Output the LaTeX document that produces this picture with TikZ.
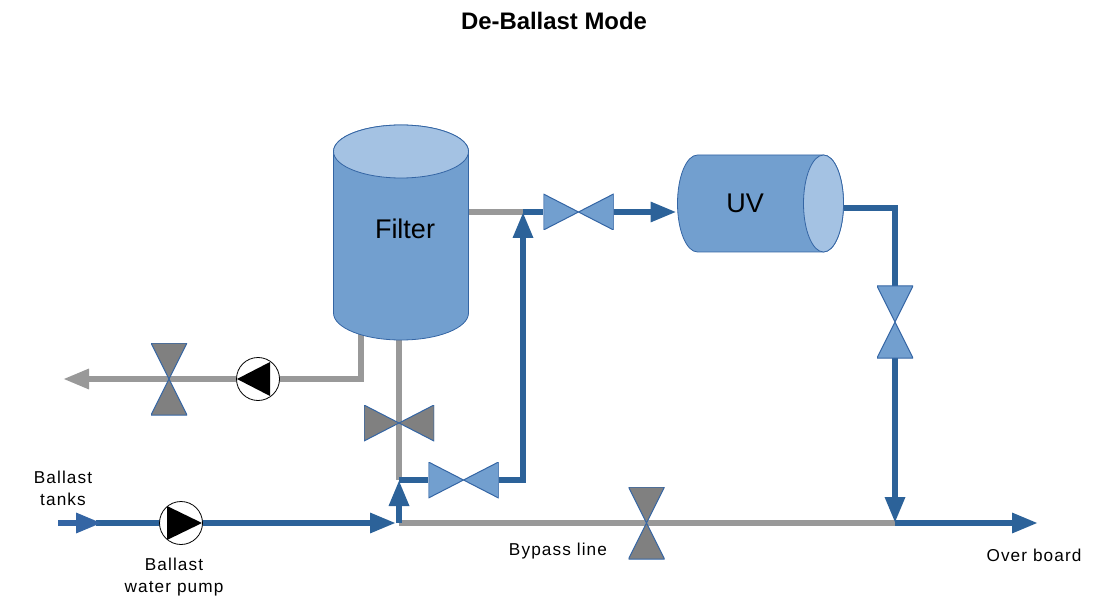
\documentclass[tikz,border=0pt]{standalone}
\usepackage{fontspec}
\setmainfont{Liberation Sans}
\newfontfamily\labelfont[LetterSpace=6.5]{Liberation Sans}
\usetikzlibrary{arrows.meta,backgrounds}
\definecolor{pipeblue}{HTML}{2C6299}
\definecolor{pipegray}{HTML}{999999}
\definecolor{valvegray}{HTML}{808080}
\definecolor{bodyblue}{HTML}{729FCF}
\definecolor{capblue}{HTML}{A4C2E3}
\definecolor{edgeblue}{HTML}{3465A4}
\tikzset{
  bluepipe/.style={draw=pipeblue,line width=6pt},
  graypipe/.style={draw=pipegray,line width=6pt},
  inpipe/.style={draw=edgeblue,line width=6pt},
  tip/.style={-{Triangle[length=26pt,width=19pt]}},
  valveh/.style={minimum width=70pt,minimum height=36pt,inner sep=0pt,
    path picture={\filldraw[fill=#1,draw=edgeblue,line width=1pt]
      (path picture bounding box.north west) -- (path picture bounding box.south east)
      -- (path picture bounding box.north east) -- (path picture bounding box.south west) -- cycle;}},
  valvev/.style={minimum width=36pt,minimum height=72pt,inner sep=0pt,
    path picture={\filldraw[fill=#1,draw=edgeblue,line width=1pt]
      (path picture bounding box.north west) -- (path picture bounding box.north east)
      -- (path picture bounding box.south west) -- (path picture bounding box.south east) -- cycle;}},
  pumpr/.style={circle,draw=black,fill=white,line width=0.8pt,minimum size=43pt,inner sep=0pt,
    path picture={\fill[black] ([shift={(-14,-17)}]path picture bounding box.center)
      -- ([shift={(21,0)}]path picture bounding box.center)
      -- ([shift={(-14,17)}]path picture bounding box.center) -- cycle;}},
  pumpl/.style={circle,draw=black,fill=white,line width=0.8pt,minimum size=43pt,inner sep=0pt,
    path picture={\fill[black] ([shift={(12,-17)}]path picture bounding box.center)
      -- ([shift={(-21,0)}]path picture bounding box.center)
      -- ([shift={(12,17)}]path picture bounding box.center) -- cycle;}},
  vesselbody/.style={fill=bodyblue,draw=edgeblue,line width=0.8pt},
  vesselcap/.style={fill=capblue,draw=edgeblue,line width=0.8pt},
  vessellabel/.style={inner sep=0pt,font=\fontsize{27}{30}\selectfont},
  lbl/.style={align=center,font=\labelfont\fontsize{17.2}{22}\selectfont}
}
\begin{document}
\begin{tikzpicture}[x=1pt,y=-1pt]
  \useasboundingbox (0,0) rectangle (1118,601);
  \node[font=\bfseries\fontsize{23.9}{28}\selectfont] (title) at (554,21) {De-Ballast Mode};

  \filldraw[vesselbody] (333.5,151.5) -- (333.5,313)
    arc[start angle=180,end angle=360,x radius=67.5pt,y radius=27pt]
    -- (468.5,151.5) arc[start angle=0,end angle=180,x radius=67.5pt,y radius=26.5pt] -- cycle;
  \filldraw[vesselcap] (401,151.5) ellipse [x radius=67.5pt,y radius=26.5pt];
  \filldraw[vesselbody] (697.5,155) -- (823.5,155)
    arc[start angle=90,end angle=-90,x radius=20pt,y radius=48.5pt]
    -- (697.5,252) arc[start angle=270,end angle=90,x radius=20pt,y radius=48.5pt] -- cycle;
  \filldraw[vesselcap] (823.5,203.5) ellipse [x radius=20pt,y radius=48.5pt];
  \node[vessellabel] (filter) at (405,229) {Filter};
  \node[vessellabel] (uv) at (745,203) {UV};

  \node[valveh=bodyblue] (vuv) at (578.5,212) {};
  \node[valveh=bodyblue] (vriser) at (463.5,480) {};
  \node[valveh=valvegray] (vfilter) at (399,423) {};
  \node[valvev=bodyblue] (vout) at (895,322) {};
  \node[valvev=valvegray] (vbypass) at (646.5,523) {};
  \node[valvev=valvegray] (vback) at (169,379) {};
  \node[pumpr] (pumpin) at (181,523) {};
  \node[pumpl] (pumpback) at (258,379) {};

  \coordinate (filterout) at (460,212);
  \coordinate (jtop) at (523,212);
  \coordinate (uvin) at (676.5,212);
  \coordinate (uvout) at (840,208.5);
  \coordinate (bendout) at (895,208.5);
  \coordinate (jover) at (895,523);
  \coordinate (overboard) at (1038,523);
  \coordinate (jmain) at (399,523);
  \coordinate (jmainin) at (396,523);
  \coordinate (jmid) at (399,480);
  \coordinate (bendriser) at (523,480);
  \coordinate (filterdown) at (399,330);
  \coordinate (filterback) at (361,330);
  \coordinate (bendback) at (361,379);
  \coordinate (backend) at (63,379);
  \coordinate (intake) at (58,523);
  \coordinate (intaketip) at (102,523);
  \coordinate (mainstart) at (96,523);

  \begin{scope}[on background layer]
    \draw[graypipe] (filterout) -- (jtop);
    \draw[graypipe] (filterdown) -- (jmid);
    \draw[graypipe,tip] (filterback) -- (bendback) -- (pumpback.center) -- (vback.center) -- (backend);
    \draw[graypipe] (jmain) -- (vbypass.center) -- (jover);
    \draw[bluepipe] (jtop) -- (vuv.west);
    \draw[bluepipe,tip] (vuv.east) -- (uvin);
    \draw[bluepipe] (jmid) -- (vriser.west);
    \draw[bluepipe,tip] (vriser.east) -- (bendriser) -- (jtop);
    \draw[bluepipe] (uvout) -- (bendout) -- (vout.north);
    \draw[bluepipe,tip] (vout.south) -- (jover);
    \draw[bluepipe,tip] (jover) -- (overboard);
    \draw[bluepipe,tip] (jmain) -- (jmid);
    \draw[bluepipe,tip] (mainstart) -- (pumpin.center) -- (jmainin);
    \draw[inpipe,tip] (intake) -- (intaketip);
  \end{scope}

  \node[lbl] (tanks) at (63,488) {Ballast\\tanks};
  \node[lbl] (pumplabel) at (174,577) {Ballast\\water pump};
  \node[lbl] (bypass) at (558,551) {Bypass line};
  \node[lbl] (over) at (1034,555) {Over board};
\end{tikzpicture}
\end{document}
